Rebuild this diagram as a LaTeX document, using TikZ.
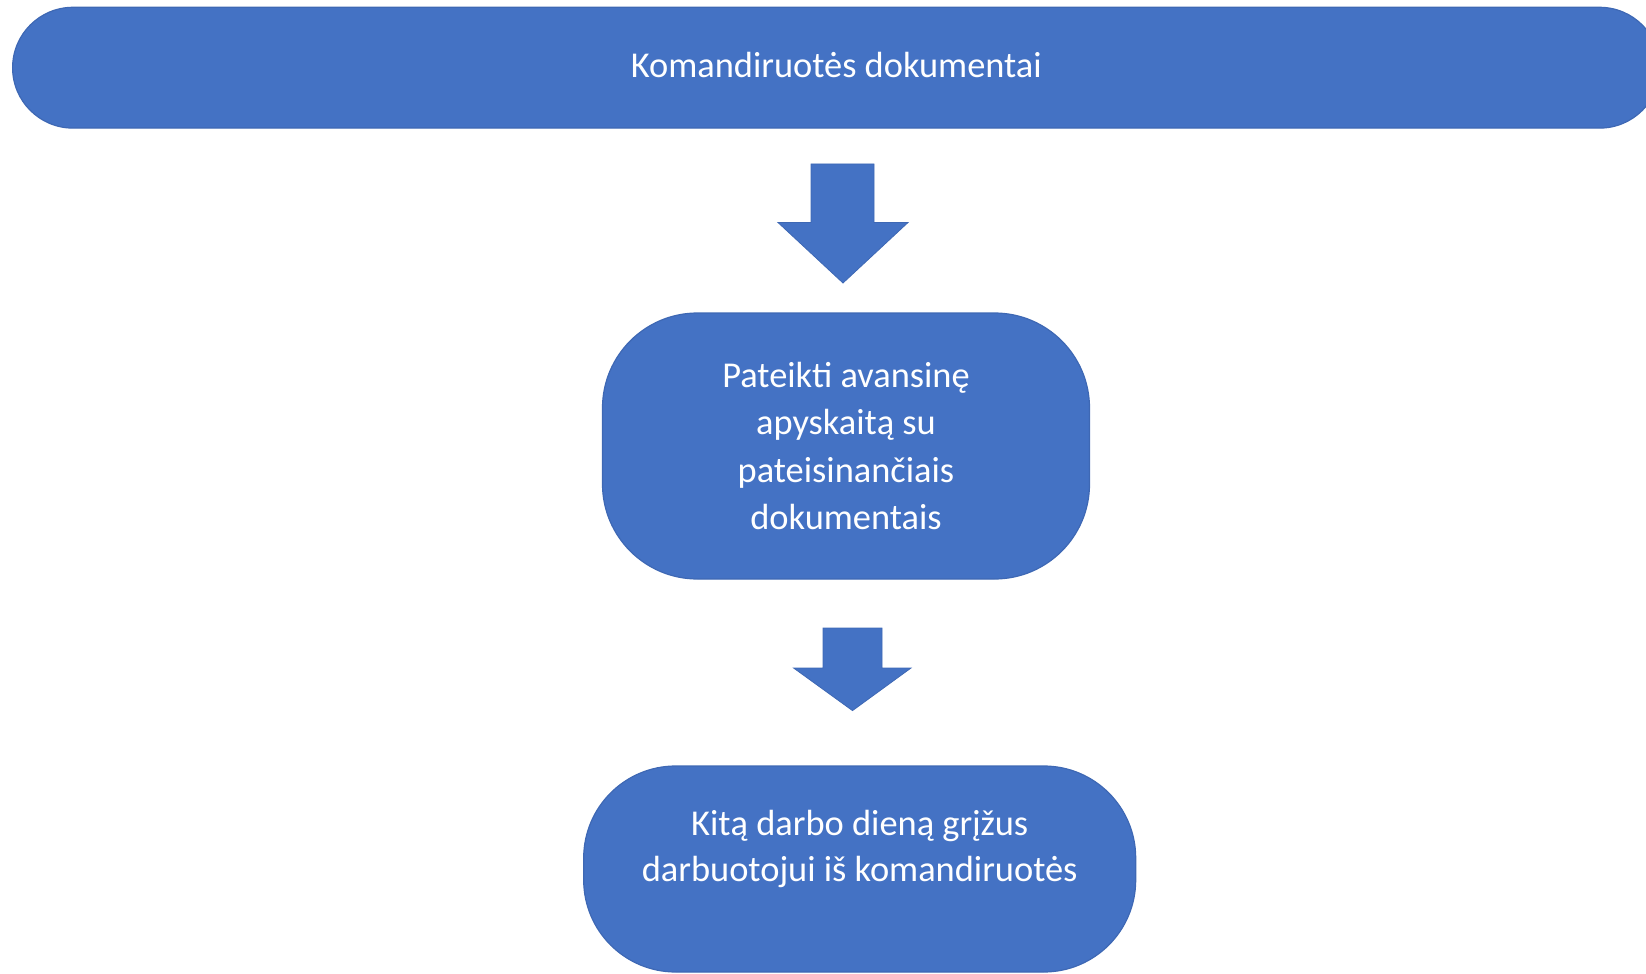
\documentclass[tikz,border=0pt]{standalone}
\usepackage{fontspec}
\setmainfont{Carlito}
\definecolor{blue1}{HTML}{4472C4}
\definecolor{edge1}{HTML}{3E68B4}
\begin{document}
\begin{tikzpicture}[x=0.5pt,y=-0.5pt,
  box/.style={fill=blue1, draw=edge1, line width=0.6pt, text=white,
    font=\fontsize{18.2}{23.6}\selectfont, align=center, inner sep=0pt},
  blockarrow/.style={fill=blue1, draw=edge1, line width=0.4pt, line join=miter}]
\useasboundingbox (0,0) rectangle (1646,974);
\node[box, minimum width=823.7pt, minimum height=60.4pt, rounded corners=30.2pt] (top) at (836.3,67.7) {\raisebox{3pt}{Komandiruotės dokumentai}};
\node[box, minimum width=243.5pt, minimum height=133pt, rounded corners=47.5pt] (mid) at (846,446) {Pateikti avansinę\\apyskaitą su\\pateisinančiais\\dokumentais};
\node[box, minimum width=276pt, minimum height=103pt, rounded corners=46pt, font=\fontsize{18.2}{23}\selectfont] (bot) at (859.7,869) {Kitą darbo dieną grįžus\\darbuotojui iš komandiruotės\\\mbox{}};
% block arrows
\draw[blockarrow] (811,164) -- (874,164) -- (874,222.5) -- (908,222.5) -- (843,283) -- (778,222.5) -- (811,222.5) -- cycle;
\draw[blockarrow] (823,628) -- (882,628) -- (882,668) -- (911,668) -- (852.5,710.6) -- (793.6,668) -- (823,668) -- cycle;
\end{tikzpicture}
\end{document}
